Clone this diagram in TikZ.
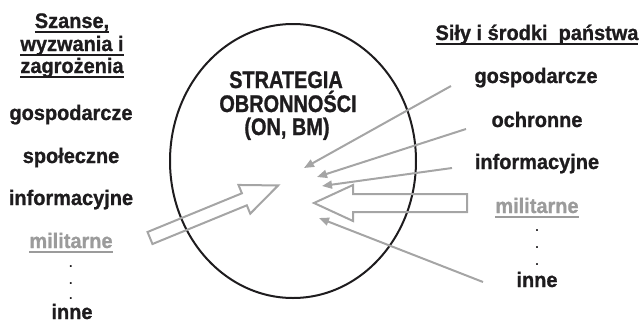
\documentclass[tikz,border=0pt]{standalone}
\usepackage{fontspec}
\setmainfont{Liberation Sans}
\newfontfamily\sidef{Liberation Sans Bold}[FakeStretch=0.95, FakeBold=1]
\newfontfamily\dotf{Liberation Sans}
\newfontfamily\centf{Liberation Sans Bold}[FakeStretch=0.83, FakeBold=1]
\usetikzlibrary{arrows.meta}
\definecolor{ink}{RGB}{30,28,30}
\definecolor{arrgray}{RGB}{165,165,165}
\definecolor{txtgray}{RGB}{155,155,155}
\newcommand\myul[1]{\setbox0\hbox{#1}\dp0=0pt\vtop{\box0\kern3pt\hrule height 2pt}}
\tikzset{
  side/.style={font=\sidef\fontsize{21}{23}\selectfont, inner sep=0pt, anchor=base, text=ink},
  dotnode/.style={font=\dotf\fontsize{18}{20}\selectfont, inner sep=0pt, anchor=base, text=ink},
  cent/.style={font=\centf\fontsize{24}{23}\selectfont, inner sep=0pt, anchor=base, text=ink},
  thinarrow/.style={draw=arrgray, line width=2pt, -{Triangle[length=10pt,width=8pt]}},
  blockarrow/.style={draw=arrgray, line width=2pt, line join=miter},
}
\begin{document}
\begin{tikzpicture}[x=1pt,y=-1pt]
\useasboundingbox (0,0) rectangle (641,322);
% ellipse
\draw[ink, line width=2pt] (293,161) ellipse [x radius=123pt, y radius=137pt];
% centre text
\node[cent] (c1) at (286,88) {STRATEGIA};
\node[cent] (c2) at (288,112) {OBRONNOŚCI};
\node[cent] (c3) at (287,135) {(ON, BM)};
% left column
\node[side] (l1) at (72,28) {\myul{Szanse,}};
\node[side] (l2) at (72,51) {\myul{wyzwania i}};
\node[side] (l3) at (72,73) {\myul{zagrożenia}};
\node[side] (l4) at (71,120) {gospodarcze};
\node[side] (l5) at (71,163) {społeczne};
\node[side] (l6) at (71,205) {informacyjne};
\node[side, text=txtgray] (l7) at (71,248) {\color{txtgray}\myul{militarne}};
\node[dotnode] (ld1) at (71,267) {.};
\node[dotnode] (ld2) at (71,284) {.};
\node[dotnode] (ld3) at (71,299) {.};
\node[side] (l8) at (72,319) {inne};
% right column
\node[side] (r0) at (537,40) {\myul{Siły i środki\ \ państwa}};
\node[side] (r1) at (536,83) {gospodarcze};
\node[side] (r2) at (537,127) {ochronne};
\node[side] (r3) at (537,169) {informacyjne};
\node[side, text=txtgray] (r4) at (537,213) {\color{txtgray}\myul{militarne}};
\node[dotnode] (rd1) at (537,231) {.};
\node[dotnode] (rd2) at (537,248) {.};
\node[dotnode] (rd3) at (537,265) {.};
\node[side] (r5) at (537,287) {inne};
% thin arrows
\coordinate (a1s) at (451,86);  \coordinate (a1e) at (304,168);
\coordinate (a2s) at (466,129); \coordinate (a2e) at (317,177);
\coordinate (a3s) at (452,168); \coordinate (a3e) at (322,186);
\coordinate (a5s) at (483,282); \coordinate (a5e) at (319,218);
\draw[thinarrow] (a1s) -- (a1e);
\draw[thinarrow] (a2s) -- (a2e);
\draw[thinarrow] (a3s) -- (a3e);
\draw[thinarrow] (a5s) -- (a5e);
% right block arrow
\draw[blockarrow] (467,194) -- (353,194) -- (353,185) -- (314,203) -- (353,221) -- (353,212) -- (467,212) -- cycle;
% left block arrow
\begin{scope}[shift={(150,238)}, rotate=22.3]
\draw[blockarrow] (0,6.5) -- (102,6.5) -- (102,15.5) -- (138.5,0) -- (102,-15.5) -- (102,-6.5) -- (0,-6.5) -- cycle;
\end{scope}
\end{tikzpicture}
\end{document}
